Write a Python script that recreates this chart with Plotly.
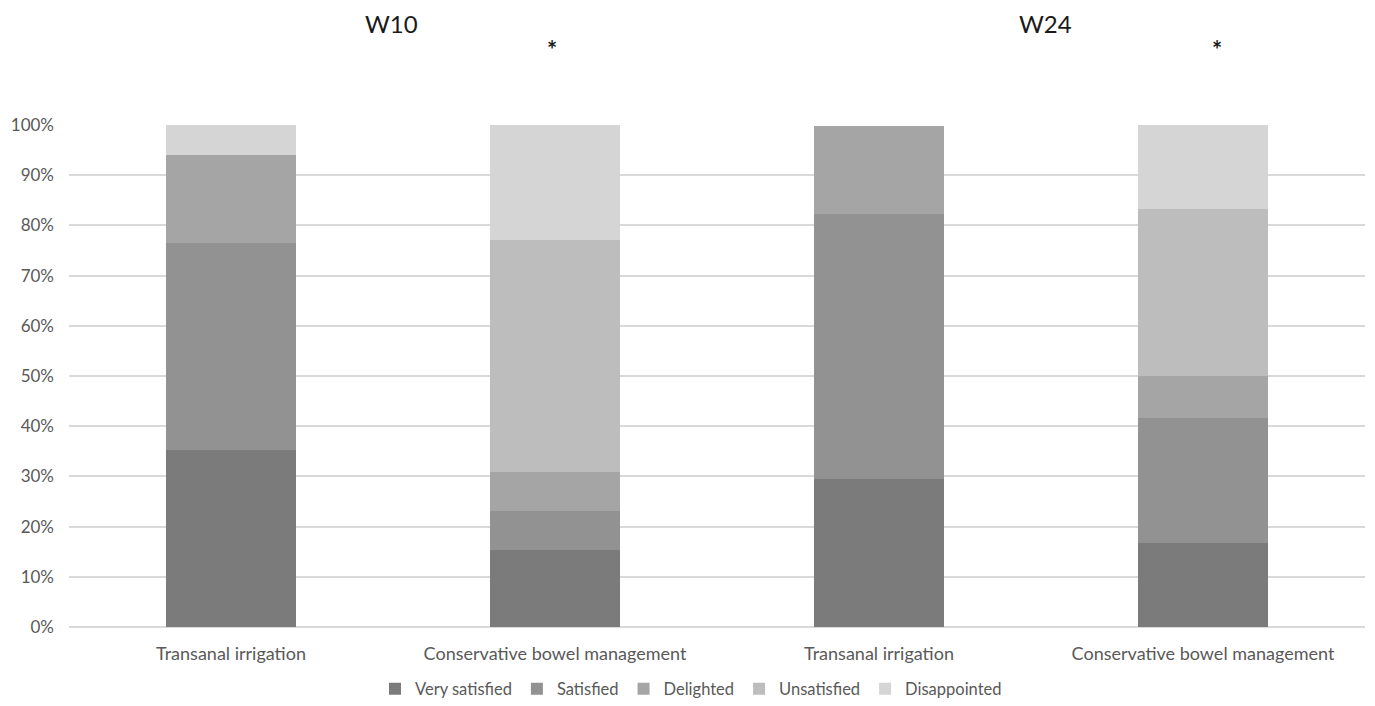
import plotly.graph_objects as go

categories = ["Transanal irrigation", "Conservative bowel management",
              "Transanal irrigation", "Conservative bowel management"]
series_names = ["Very satisfied", "Satisfied", "Delighted", "Unsatisfied", "Disappointed"]
very_satisfied = [35.3, 15.4, 29.4, 16.7]
satisfied = [41.2, 7.7, 52.9, 25.0]
delighted = [17.6, 7.7, 17.6, 8.3]
unsatisfied = [0.0, 46.2, 0.0, 33.3]
disappointed = [5.9, 23.1, 0.0, 16.7]
colors = ["#7b7b7b", "#929292", "#a5a5a5", "#bdbdbd", "#d5d5d5"]
y_ticks = [0, 10, 20, 30, 40, 50, 60, 70, 80, 90, 100]
panel_titles = ["W10", "W24"]

series_values = [very_satisfied, satisfied, delighted, unsatisfied, disappointed]
xpos = list(range(len(categories)))

# page has an 8px body margin; figure coordinates are screen coordinates minus 8
OFF = 8
W, H = 1375, 706
L = 69 - OFF
T = 125 - OFF
R = W - (1365 - OFF)
B = H - (627 - OFF)
PW, PH = W - L - R, H - T - B

def px_x(x):
    return (x - OFF - L) / PW

def px_y(y):
    return (H - B - (y - OFF)) / PH

fig = go.Figure()
for name, vals, col in zip(series_names, series_values, colors):
    fig.add_trace(go.Bar(x=xpos, y=vals, name=name, marker=dict(color=col, line=dict(width=0))))

FONT = "Lato, Open Sans, sans-serif"
fig.update_layout(
    barmode="stack",
    bargap=0.6,
    width=W, height=H,
    paper_bgcolor="white", plot_bgcolor="white",
    margin=dict(l=L, r=R, t=T, b=B, autoexpand=False),
    font=dict(family=FONT, color="#595959", size=17),
    legend=dict(orientation="h", x=(691 - OFF) / W, xref="container", xanchor="center",
                y=(H - (689 - OFF)) / H, yref="container", yanchor="middle",
                font=dict(size=16.5, color="#595959"),
                traceorder="normal", itemwidth=30),
    xaxis=dict(tickmode="array", tickvals=xpos, ticktext=categories,
               range=[-0.5, 3.5], showgrid=False, zeroline=False, showline=False,
               ticks="", automargin=False, ticklabelstandoff=14,
               tickfont=dict(size=18, color="#595959")),
    yaxis=dict(range=[0, 100], tickvals=y_ticks, ticktext=[f"{v}%" for v in y_ticks],
               showgrid=True, gridcolor="#d9d9d9", gridwidth=1.5, zeroline=True,
               zerolinecolor="#d9d9d9", zerolinewidth=1.5, showline=False, ticks="",
               automargin=False, ticklabelstandoff=14,
               tickfont=dict(size=17, color="#595959")),
    showlegend=True,
)

for txt, cx in zip(panel_titles, [391, 1045]):
    fig.add_annotation(text=txt, xref="paper", yref="paper", x=px_x(cx), y=px_y(24),
                       showarrow=False, font=dict(size=24, color="#1a1a1a", family=FONT),
                       xanchor="center", yanchor="middle")
for cx in [552, 1217]:
    fig.add_annotation(text="<b>*</b>", xref="paper", yref="paper", x=px_x(cx), y=px_y(50),
                       showarrow=False, font=dict(size=24, color="#1a1a1a", family=FONT),
                       xanchor="center", yanchor="middle")

fig.write_html("out.html")
